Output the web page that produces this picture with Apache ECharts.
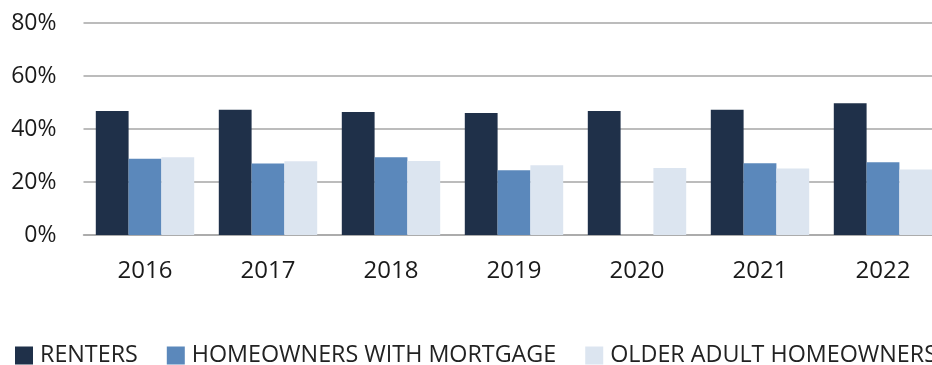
<!DOCTYPE html>
<html>
<head>
<meta charset="utf-8">
<script src="https://cdn.jsdelivr.net/npm/echarts@6/dist/echarts.min.js"></script>
<style>
  html, body { margin: 0; padding: 0; background: #ffffff; overflow: hidden; }
  /* The plot runs a little past the right edge of the page, so the canvas is wider than the window */
  #chart { width: 960px; height: 365px; }
</style>
</head>
<body>
<div id="chart"></div>
<script>
// Share of households (%), by year
const years = ['2016', '2017', '2018', '2019', '2020', '2021', '2022'];
const renters = [46.8, 47.3, 46.4, 46.0, 46.8, 47.3, 49.7];
const mortgageHomeowners = [28.8, 27.0, 29.3, 24.4, null, 27.1, 27.5];
const olderAdultHomeowners = [29.3, 27.8, 27.9, 26.3, 25.3, 25.1, 24.7];
const yTicks = [0, 20, 40, 60, 80];

const FONT = '"Open Sans", "Noto Sans", sans-serif';

const chart = echarts.init(document.getElementById('chart'), null, { renderer: 'canvas' });

function barSeries(name, data, color) {
  return {
    name: name,
    type: 'bar',
    data: data,
    barGap: '0%',
    barCategoryGap: '20%',
    itemStyle: { color: color },
    emphasis: { disabled: true }
  };
}

chart.setOption({
  animation: false,
  backgroundColor: '#ffffff',
  textStyle: { fontFamily: FONT },
  grid: { left: 83.5, top: 23, width: 861, height: 212, containLabel: false },
  legend: {
    left: 10,
    top: 339,
    itemWidth: 18,
    itemHeight: 18,
    itemGap: 29,
    icon: 'rect',
    selectedMode: false,
    textStyle: { fontFamily: FONT, fontSize: 23.3, color: '#222222', padding: [0, 0, 0, 2] },
    data: ['RENTERS', 'HOMEOWNERS WITH MORTGAGE', 'OLDER ADULT HOMEOWNERS']
  },
  xAxis: {
    type: 'category',
    data: years,
    axisLine: { show: true, lineStyle: { color: '#a6a6a6', width: 1.5 } },
    axisTick: { show: false },
    axisLabel: { color: '#1a1a1a', fontSize: 24, fontFamily: FONT, margin: 24 }
  },
  yAxis: {
    type: 'value',
    min: yTicks[0],
    max: yTicks[yTicks.length - 1],
    interval: 20,
    axisLine: { show: false },
    axisTick: { show: false },
    splitLine: { lineStyle: { color: '#a6a6a6', width: 1.5 } },
    axisLabel: { color: '#1a1a1a', fontSize: 23, fontFamily: FONT, margin: 27, formatter: '{value}%' }
  },
  series: [
    barSeries('RENTERS', renters, '#1f3049'),
    barSeries('HOMEOWNERS WITH MORTGAGE', mortgageHomeowners, '#5b88bb'),
    barSeries('OLDER ADULT HOMEOWNERS', olderAdultHomeowners, '#dce5f0')
  ]
});
</script>
</body>
</html>
